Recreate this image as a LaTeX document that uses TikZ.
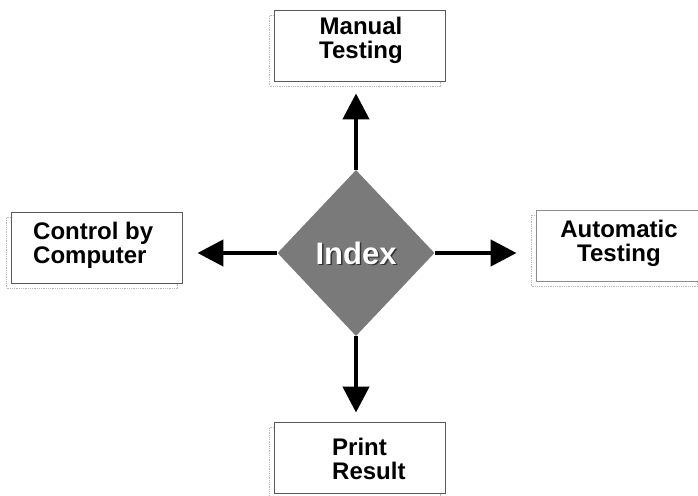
\documentclass[tikz,border=0pt]{standalone}
\usepackage{fontspec}
\setmainfont{Liberation Sans}
\usetikzlibrary{shapes.geometric,arrows.meta}

\tikzset{
  box/.style={draw=black!65, line width=0.9pt, fill=white, rectangle,
    minimum width=171pt, minimum height=71pt, inner sep=0pt},
  boxshadow/.style={draw=black!28, line width=0.8pt, densely dotted, rectangle,
    minimum width=171pt, minimum height=71pt, inner sep=0pt},
  label/.style={font=\fontsize{24}{24}\selectfont\bfseries, inner sep=0pt, text=black},
  hub/.style={diamond, fill=black!52, minimum width=157pt, minimum height=166pt,
    inner sep=0pt, aspect=1},
  link/.style={line width=4.5pt, draw=black,
    -{Triangle[width=26pt,length=26pt]}},
}

\begin{document}
\begin{tikzpicture}[x=1pt,y=-1pt]
  \useasboundingbox (0,0) rectangle (698,495);

  % shadows behind the four boxes
  \node[boxshadow] at (355,50.5) {};
  \node[boxshadow] at (92,252.5) {};
  \node[boxshadow, minimum width=166pt] at (614.5,250.5) {};
  \node[boxshadow] at (355,462.5) {};

  % boxes
  \node[box] (man) at (359.5,45.5) {};
  \node[box] (ctl) at (96.5,247.5) {};
  \node[box, draw=black!45, minimum width=166pt] (aut) at (619,245.5) {};
  \node[box] (prt) at (359.5,457.5) {};

  % box texts
  \node[label, align=center] (mantext) at (361,40) {Manual\\Testing};
  \node[label, align=left, anchor=west] (ctltext) at (33,245.5) {Control by\\Computer};
  \node[label, align=center] (auttext) at (619,243.5) {Automatic\\Testing};
  \node[label, align=left, anchor=west] (prttext) at (332,459) {Print\\Result};

  % central diamond
  \node[hub] (idx) at (356,253) {};
  \node[font=\fontsize{31}{31}\selectfont\bfseries, text=black!80, inner sep=0pt]
    (idxshadow) at (357.5,254.5) {Index};
  \node[font=\fontsize{31}{31}\selectfont\bfseries, text=white, inner sep=0pt]
    (idxtext) at (356,253) {Index};

  % connectors
  \draw[link, shorten >=12pt] (idx.north) -- (idx.north |- man.south);
  \draw[link, shorten >=15pt] (idx.west) -- (idx.west -| ctl.east);
  \draw[link, shorten >=19pt] (idx.east) -- (idx.east -| aut.west);
  \draw[link, shorten >=9pt] (idx.south) -- (idx.south |- prt.north);
\end{tikzpicture}
\end{document}
